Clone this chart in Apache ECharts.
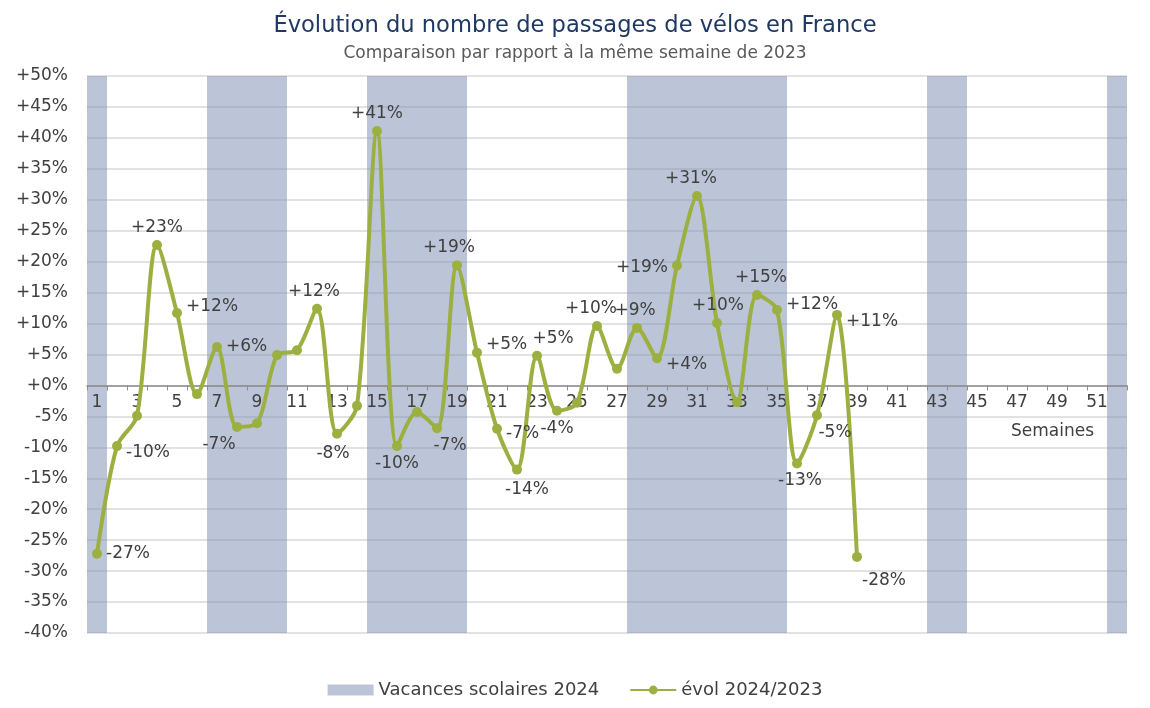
<!DOCTYPE html>
<html>
<head>
<meta charset="utf-8">
<script src="https://cdn.jsdelivr.net/npm/echarts@6/dist/echarts.min.js"></script>
<style>html,body{margin:0;padding:0;background:#fff}#c{width:1150px;height:708px}</style>
</head>
<body>
<div id="c"></div>
<script>
// ---- data ----
const weeks = Array.from({length: 52}, (_, i) => String(i + 1));
const evol = [-27.2, -9.8, -4.9, 22.7, 11.7, -1.4, 6.2, -6.7, -6.1, 4.9,
  5.7, 12.4, -7.8, -3.3, 41.1, -9.8, -4.3, -6.9, 19.4, 5.3,
  -7.0, -13.6, 4.8, -4.1, -2.8, 9.6, 2.7, 9.3, 4.4, 19.4,
  30.6, 10.1, -2.7, 14.6, 12.2, -12.6, -4.8, 11.4, -27.7];
const vacationWeeks = [1, 7, 8, 9, 10, 15, 16, 17, 18, 19, 28, 29, 30, 31, 32, 33, 34, 35, 43, 44, 52];
const labelledWeeks = [1, 2, 4, 5, 7, 8, 12, 13, 15, 16, 18, 19, 20, 21, 22, 23, 24, 26, 28, 29, 30, 31, 32, 34, 35, 36, 37, 38, 39];
const yTicks = {min: -40, max: 50, step: 5};

// ---- layout / style ----
const GRID = {left: 87, right: 23, top: 76, bottom: 75};
const plotH = 708 - GRID.top - GRID.bottom;
const zeroOffset = -plotH * (0 - yTicks.min) / (yTicks.max - yTicks.min);

const labelPlace = {
  1: ['right', [0, 0]], 2: ['right', [0, 6]], 4: ['top', [0, 0]], 5: ['right', [0, -6]],
  7: ['right', [0, 0]], 8: ['bottom', [-18, 0]], 12: ['top', [-3, 0]], 13: ['bottom', [-4, 2]],
  15: ['top', [0, 0]], 16: ['bottom', [0, 0]], 18: ['bottom', [13, 0]], 19: ['top', [-8, 0]],
  20: ['right', [0, -8]], 21: ['right', [0, 5]], 22: ['bottom', [10, 2]], 23: ['top', [16, 0]],
  24: ['bottom', [0, 0]], 26: ['top', [-6, 0]], 28: ['top', [-2, 0]], 29: ['right', [0, 6]],
  30: ['left', [0, 2]], 31: ['top', [-6, 0]], 32: ['top', [1, 0]], 34: ['top', [4, 0]],
  35: ['right', [0, -5]], 36: ['bottom', [3, 0]], 37: ['bottom', [18, 0]], 38: ['right', [0, 7]],
  39: ['bottom', [27, 6]]
};

const FONT = 'DejaVu Sans';
const TXT = '#404040';
const fmt = v => (v >= 0 ? '+' : '') + Math.round(v) + '%';

const lineData = weeks.map((w, i) => {
  const v = i < evol.length ? evol[i] : null;
  if (v === null) return null;
  const n = i + 1;
  if (labelledWeeks.includes(n)) {
    const p = labelPlace[n] || ['top', [0, 0]];
    return {value: v, label: {show: true, position: p[0], offset: p[1], distance: 4,
      formatter: fmt(v), color: TXT, fontSize: 17, fontFamily: FONT}};
  }
  return v;
});
const barData = weeks.map((w, i) => vacationWeeks.includes(i + 1) ? 1 : null);

const chart = echarts.init(document.getElementById('c'));
chart.setOption({
  animation: false,
  backgroundColor: '#ffffff',
  title: [{
    text: 'Évolution du nombre de passages de vélos en France',
    left: 'center', top: 10,
    textStyle: {color: '#1F3864', fontSize: 22.6, fontWeight: 'normal', fontFamily: FONT}
  }, {
    text: 'Comparaison par rapport à la même semaine de 2023',
    left: 'center', top: 40,
    textStyle: {color: '#595959', fontSize: 17, fontWeight: 'normal', fontFamily: FONT}
  }],
  legend: {
    bottom: 4, left: 'center', itemGap: 30, itemWidth: 46, itemHeight: 11,
    textStyle: {color: TXT, fontSize: 18, fontFamily: FONT},
    data: [{name: 'Vacances scolaires 2024', icon: 'rect'}, {name: 'évol 2024/2023'}]
  },
  grid: {left: GRID.left, right: GRID.right, top: GRID.top, bottom: GRID.bottom, containLabel: false},
  xAxis: [{
    type: 'category', data: weeks, boundaryGap: true, z: 3,
    position: 'bottom', offset: zeroOffset,
    axisLine: {onZero: false, lineStyle: {color: '#8c8c8c', width: 1.5}},
    axisTick: {show: true, interval: 0, length: 5, lineStyle: {color: '#8c8c8c'}},
    axisLabel: {interval: 1, color: TXT, fontSize: 17, margin: 9, fontFamily: FONT},
    name: 'Semaines', nameLocation: 'end', nameGap: -33,
    nameTextStyle: {align: 'right', verticalAlign: 'top', padding: [38, 0, 0, 0], color: TXT, fontSize: 17, fontFamily: FONT},
    splitLine: {show: false}
  }],
  yAxis: [{
    type: 'value', min: yTicks.min, max: yTicks.max, interval: yTicks.step,
    axisLabel: {formatter: v => (v >= 0 ? '+' : '') + v + '%', color: TXT, fontSize: 17, margin: 19, fontFamily: FONT},
    axisLine: {show: false}, axisTick: {show: false},
    splitLine: {lineStyle: {color: '#d9d9d9', width: 1.5}}
  }, {
    type: 'value', min: 0, max: 1, show: false, position: 'right',
    splitLine: {show: false}
  }],
  series: [{
    name: 'Vacances scolaires 2024', type: 'bar', yAxisIndex: 1,
    data: barData, barWidth: '100%', barGap: '-100%',
    itemStyle: {color: 'rgba(121,139,177,0.5)'}, z: 1
  }, {
    name: 'évol 2024/2023', type: 'line', data: lineData, smooth: 0.3,
    symbol: 'circle', symbolSize: 10, connectNulls: false,
    lineStyle: {color: '#9BB040', width: 4},
    itemStyle: {color: '#9BB040'}, z: 5
  }]
});
</script>
</body>
</html>
